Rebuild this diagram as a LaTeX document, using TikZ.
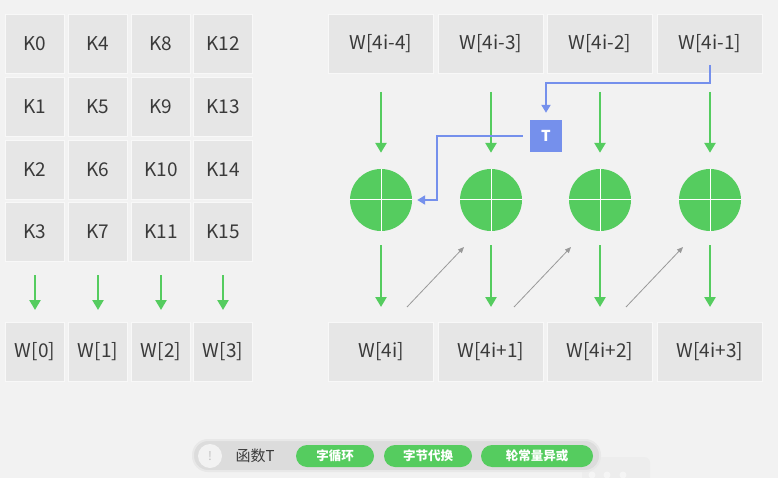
\documentclass[tikz,border=0pt]{standalone}
\usepackage{fontspec}
\setmainfont{Noto Sans CJK SC}
\usepackage{tikz}
\usetikzlibrary{arrows.meta, positioning, calc}
\definecolor{bggray}{HTML}{F2F2F2}
\definecolor{boxgray}{HTML}{E6E6E6}
\definecolor{txtgray}{HTML}{3A3A3A}
\definecolor{xgreen}{HTML}{55CC5F}
\definecolor{tblue}{HTML}{7590EC}
\definecolor{pillgray}{HTML}{DCDCDC}
\tikzstyle{word} = [rectangle, minimum width=59pt, minimum height=59pt, fill=boxgray, draw=white!70!boxgray, line width=1pt, text=txtgray, font=\fontsize{19}{19}\selectfont]
\tikzstyle{wword} = [word, minimum width=105pt]
\tikzstyle{xorc} = [circle, minimum size=62pt, fill=xgreen, inner sep=0pt]
\tikzstyle{garrow} = [line width=2.8pt, draw=xgreen, -{Triangle[width=11pt,length=10pt]}]
\tikzstyle{barrow} = [line width=2pt, draw=tblue, -{Triangle[width=9pt,length=8pt]}]
\tikzstyle{sarrow} = [line width=0.8pt, draw=gray!80, -{Triangle[width=5pt,length=6pt]}]
\tikzstyle{pill} = [rectangle, rounded corners=11pt, minimum height=22pt, fill=xgreen, text=white, font=\fontsize{12.5}{12.5}\selectfont\bfseries]

\begin{document}
\begin{tikzpicture}[x=1pt, y=-1pt]
\useasboundingbox[fill=bggray] (0,0) rectangle (778,478);
% Key words
\node (k0) [word] at (35,44) {K0};
\node (k4) [word] at (98,44) {K4};
\node (k8) [word] at (161,44) {K8};
\node (k12) [word] at (223,44) {K12};
\node (k1) [word] at (35,107) {K1};
\node (k5) [word] at (98,107) {K5};
\node (k9) [word] at (161,107) {K9};
\node (k13) [word] at (223,107) {K13};
\node (k2) [word] at (35,170) {K2};
\node (k6) [word] at (98,170) {K6};
\node (k10) [word] at (161,170) {K10};
\node (k14) [word] at (223,170) {K14};
\node (k3) [word] at (35,232) {K3};
\node (k7) [word] at (98,232) {K7};
\node (k11) [word] at (161,232) {K11};
\node (k15) [word] at (223,232) {K15};
\node (w0) [word] at (35,352) {W[0]};
\node (w1) [word] at (98,352) {W[1]};
\node (w2) [word] at (161,352) {W[2]};
\node (w3) [word] at (223,352) {W[3]};

\draw [garrow, shorten <=13pt, shorten >=12pt] (k3) -- (w0);
\draw [garrow, shorten <=13pt, shorten >=12pt] (k7) -- (w1);
\draw [garrow, shorten <=13pt, shorten >=12pt] (k11) -- (w2);
\draw [garrow, shorten <=13pt, shorten >=12pt] (k15) -- (w3);

% Expansion round
\node (wa) [wword] at (381,44) {W[4i-4]};
\node (wb) [wword] at (491,44) {W[4i-3]};
\node (wc) [wword] at (600,44) {W[4i-2]};
\node (wd) [wword] at (710,44) {W[4i-1]};
\node (ca) [xorc] at (381,200) {};
\node (cb) [xorc] at (491,200) {};
\node (cc) [xorc] at (600,200) {};
\node (cd) [xorc] at (710,200) {};
\node (na) [wword] at (381,352) {W[4i]};
\node (nb) [wword] at (491,352) {W[4i+1]};
\node (nc) [wword] at (600,352) {W[4i+2]};
\node (nd) [wword] at (710,352) {W[4i+3]};
\node (T) [rectangle, minimum size=32pt, fill=tblue, text=white, font=\fontsize{15}{15}\selectfont\bfseries] at (546,136) {T};

\foreach \c in {ca,cb,cc,cd}
  \draw [white, line width=1pt] (\c.north) -- (\c.south) (\c.west) -- (\c.east);

\draw [garrow, shorten <=18pt, shorten >=16pt] (wa) -- (ca);
\draw [garrow, shorten <=18pt, shorten >=16pt] (wb) -- (cb);
\draw [garrow, shorten <=18pt, shorten >=16pt] (wc) -- (cc);
\draw [garrow, shorten <=18pt, shorten >=16pt] (wd) -- (cd);
\draw [garrow, shorten <=14pt, shorten >=15pt] (ca) -- (na);
\draw [garrow, shorten <=14pt, shorten >=15pt] (cb) -- (nb);
\draw [garrow, shorten <=14pt, shorten >=15pt] (cc) -- (nc);
\draw [garrow, shorten <=14pt, shorten >=15pt] (cd) -- (nd);

% Function T
\draw [barrow] ([yshift=9pt]wd.south) -- ++(0,18) -| ([yshift=7pt]T.north);
\draw [barrow] ([xshift=-7pt]T.west) -- ++(-86,0) |- ([xshift=5pt]ca.east);

% Carry to next word
\coordinate (da) at (407,307);
\coordinate (db) at (514,307);
\coordinate (dc) at (626,307);
\coordinate (ea) at (464,247);
\coordinate (eb) at (571,247);
\coordinate (ec) at (683,247);
\draw [sarrow] (da) -- (ea);
\draw [sarrow] (db) -- (eb);
\draw [sarrow] (dc) -- (ec);

% Legend
\fill [black!7, rounded corners=6pt] (582,457) rectangle (650,490);
\foreach \x in {592,607,623}
  \fill [black!4] (\x,475) circle (3.5pt);
\draw [fill=pillgray, draw=black!9, line width=2pt, rounded corners=15pt] (193,440) rectangle (600,471);
\node (info) [circle, minimum size=24pt, fill=bggray, text=black!25, font=\fontsize{12}{12}\selectfont] at (210,456) {!};
\node (fn) [right=10pt of info, text=txtgray, font=\fontsize{15}{15}\selectfont] {函数T};
\node (p1) [pill, minimum width=78pt] at (335,456) {字循环};
\node (p2) [pill, minimum width=88pt] at (428,456) {字节代换};
\node (p3) [pill, minimum width=112pt] at (537,456) {轮常量异或};
\end{tikzpicture}
\end{document}
